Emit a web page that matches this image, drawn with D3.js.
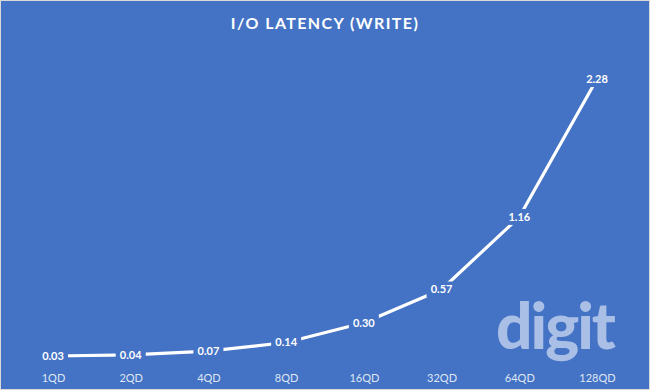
<!DOCTYPE html>
<html>
<head>
<meta charset="utf-8">
<script src="https://cdn.jsdelivr.net/npm/d3@7"></script>
<style>
  body { margin: 0; background: #fff; }
  text { font-family: Lato, "Open Sans", sans-serif; }
</style>
</head>
<body>
<div id="chart"></div>
<script>
// chart data
const queueDepths = ['1QD', '2QD', '4QD', '8QD', '16QD', '32QD', '64QD', '128QD'];
const latency = [0.03, 0.04, 0.07, 0.14, 0.30, 0.57, 1.16, 2.28];
const title = 'I/O LATENCY (WRITE)';

const w = 650, h = 390,
  bg = '#4472c4';

const svg = d3.select('#chart').append('svg')
  .attr('width', w)
  .attr('height', h);

// background with thin light border
svg.append('rect')
  .attr('x', 0.5).attr('y', 0.5)
  .attr('width', w - 1).attr('height', h - 1)
  .attr('fill', bg)
  .attr('stroke', '#d9d9d9');

svg.append('text')
  .attr('x', w / 2)
  .attr('y', 29)
  .attr('text-anchor', 'middle')
  .attr('fill', '#fff')
  .attr('font-size', 16)
  .attr('font-weight', 'bold')
  .attr('letter-spacing', 1.4)
  .text(title);

// watermark
svg.append('text')
  .attr('x', 555)
  .attr('y', 349)
  .attr('text-anchor', 'middle')
  .attr('fill', '#a9bfe6')
  .attr('font-size', 64)
  .attr('font-weight', 900)
  .attr('letter-spacing', -2)
  .text('digit');

const x = d3.scalePoint()
  .domain(queueDepths)
  .range([53, 597]);

const y = d3.scaleLinear()
  .domain([0, 2.5])
  .range([359.7, 52]);

const xAxis = svg.append('g')
  .attr('transform', 'translate(0,366)')
  .call(d3.axisBottom(x).tickSize(0).tickPadding(8));
xAxis.select('.domain').remove();
xAxis.selectAll('text')
  .attr('fill', '#dfe7f5')
  .attr('font-size', 11)
  .style('font-family', 'Lato, "Open Sans", sans-serif');

const pts = queueDepths.map((q, i) => ({ q: q, v: latency[i] }));

svg.append('path')
  .datum(pts)
  .attr('fill', 'none')
  .attr('stroke', '#fff')
  .attr('stroke-width', 3.2)
  .attr('stroke-linejoin', 'round')
  .attr('d', d3.line()
    .x(d => x(d.q))
    .y(d => y(d.v)));

// data labels sit on the points, boxed in the background colour
const labels = svg.selectAll('.lbl')
  .data(pts)
  .enter()
  .append('g')
  .attr('class', 'lbl')
  .attr('transform', d => 'translate(' + x(d.q) + ',' + y(d.v) + ')');

labels.append('rect')
  .attr('x', -15).attr('y', -8)
  .attr('width', 30).attr('height', 16)
  .attr('fill', bg);

labels.append('text')
  .attr('text-anchor', 'middle')
  .attr('dy', '0.35em')
  .attr('fill', '#fff')
  .attr('font-size', 11)
  .attr('font-weight', 'bold')
  .text(d => d.v.toFixed(2));
</script>
</body>
</html>
